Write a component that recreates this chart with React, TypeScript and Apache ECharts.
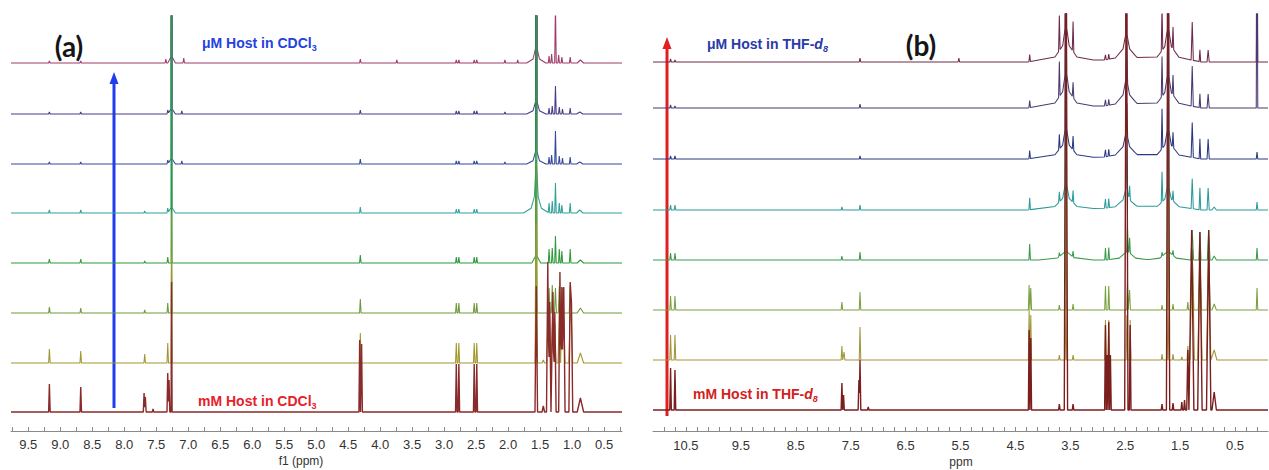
import React, { useEffect, useRef } from "react";
import * as echarts from "echarts";

// ---------- axis ticks / labels ----------
const LEFT_LABELS = [9.5, 9.0, 8.5, 8.0, 7.5, 7.0, 6.5, 6.0, 5.5, 5.0, 4.5, 4.0, 3.5, 3.0, 2.5, 2.0, 1.5, 1.0, 0.5];
const LEFT_TICKS = [9.75, 9.5, 9.25, 9.0, 8.75, 8.5, 8.25, 8.0, 7.75, 7.5, 7.25, 7.0, 6.75, 6.5, 6.25, 6.0, 5.75, 5.5, 5.25, 5.0, 4.75, 4.5, 4.25, 4.0, 3.75, 3.5, 3.25, 3.0, 2.75, 2.5, 2.25, 2.0, 1.75, 1.5, 1.25, 1.0, 0.75, 0.5, 0.25];
const RIGHT_LABELS = [10.5, 9.5, 8.5, 7.5, 6.5, 5.5, 4.5, 3.5, 2.5, 1.5, 0.5];
const RIGHT_TICKS = [10.9, 10.7, 10.5, 10.3, 10.1, 9.9, 9.7, 9.5, 9.3, 9.1, 8.9, 8.7, 8.5, 8.3, 8.1, 7.9, 7.7, 7.5, 7.3, 7.1, 6.9, 6.7, 6.5, 6.3, 6.1, 5.9, 5.7, 5.5, 5.3, 5.1, 4.9, 4.7, 4.5, 4.3, 4.1, 3.9, 3.7, 3.5, 3.3, 3.1, 2.9, 2.7, 2.5, 2.3, 2.1, 1.9, 1.7, 1.5, 1.3, 1.1, 0.9, 0.7, 0.5, 0.3, 0.1];

// ---------- (a) CDCl3 spectra: peaks [ppm, height, halfWidth?], bottom (mM) -> top (uM) ----------
const CDCL3_0 = [[9.17, 28], [8.68, 25], [7.69, 19], [7.67, 15], [7.55, 3], [7.32, 39], [7.30, 32], [7.26, 130, 0.008], [4.32, 72], [4.29, 68], [2.81, 48], [2.77, 48], [2.53, 48], [2.49, 48], [1.56, 126, 0.02], [1.45, 6, 0.02], [1.38, 150, 0.02], [1.35, 110, 0.02], [1.30, 120, 0.02], [1.27, 100, 0.02], [1.19, 140, 0.02], [1.16, 125, 0.02], [1.13, 125, 0.02], [1.03, 130, 0.02], [1.01, 110, 0.02], [0.87, 14, 0.05]];
const CDCL3_1 = [[9.17, 14], [8.68, 12], [7.68, 9], [7.32, 20], [7.26, 110, 0.008], [4.31, 30], [2.81, 20], [2.77, 20], [2.53, 20], [2.49, 20], [1.56, 140, 0.02], [1.45, 3, 0.02], [1.38, 40, 0.02], [1.35, 45, 0.02], [1.30, 50, 0.02], [1.27, 40, 0.02], [1.20, 50, 0.02], [1.16, 48, 0.02], [1.13, 45, 0.02], [1.03, 50, 0.02], [1.01, 40, 0.02], [0.87, 10, 0.05]];
const CDCL3_2 = [[9.17, 6], [8.68, 5], [7.68, 3], [7.32, 10], [7.26, 100, 0.008], [4.31, 14], [2.81, 10], [2.77, 10], [2.53, 10], [2.49, 10], [1.56, 150, 0.015], [1.36, 25, 0.015], [1.31, 28, 0.015], [1.26, 25, 0.015], [1.20, 27, 0.015], [1.15, 25, 0.015], [1.03, 27, 0.015], [0.87, 5, 0.05]];
const CDCL3_3 = [[9.17, 4], [8.68, 4], [7.68, 2], [7.32, 6], [7.26, 500, 0.007], [4.31, 8], [2.81, 6], [2.77, 6], [2.53, 6], [2.49, 6], [1.56, 500, 0.012], [1.56, 8, 0.07], [1.36, 14], [1.31, 15], [1.26, 27], [1.20, 14], [1.16, 12], [1.03, 14], [0.87, 3, 0.05]];
const CDCL3_4 = [[9.17, 3], [8.68, 3], [7.68, 2], [7.32, 5], [7.26, 500, 0.007], [7.26, 6, 0.06], [4.31, 6], [2.81, 4], [2.77, 4], [2.53, 4], [2.49, 4], [1.56, 30, 0.03], [1.56, 15, 0.08], [1.56, 8, 0.2], [1.36, 10], [1.31, 12], [1.26, 30], [1.20, 10], [1.16, 8], [1.03, 10], [0.88, 3, 0.05]];
const CDCL3_5 = [[9.17, 2], [8.68, 2], [7.32, 4], [7.26, 500, 0.007], [7.26, 6, 0.06], [7.10, 3], [4.31, 5], [2.81, 3], [2.77, 3], [2.53, 3], [2.49, 3], [2.05, 2], [1.56, 500, 0.012], [1.56, 10, 0.05], [1.56, 5, 0.15], [1.36, 7], [1.32, 9], [1.26, 33], [1.20, 8], [1.15, 6], [1.03, 7], [0.88, 2, 0.05]];
const CDCL3_6 = [[9.17, 2], [8.68, 2], [7.32, 4], [7.26, 500, 0.007], [7.26, 6, 0.06], [7.10, 3], [4.31, 4], [2.81, 3], [2.77, 3], [2.53, 3], [2.49, 3], [2.05, 2], [1.56, 500, 0.012], [1.56, 10, 0.05], [1.56, 5, 0.15], [1.36, 6], [1.31, 8], [1.26, 28], [1.20, 7], [1.15, 5], [1.03, 6], [0.88, 2, 0.05]];
const CDCL3_7 = [[9.17, 2], [8.68, 2], [7.35, 4], [7.26, 500, 0.007], [7.26, 7, 0.06], [7.07, 5], [4.31, 4], [3.74, 3], [2.81, 3], [2.77, 3], [2.53, 3], [2.49, 3], [2.05, 3], [1.85, 3], [1.56, 500, 0.012], [1.56, 12, 0.05], [1.56, 6, 0.15], [1.36, 7], [1.32, 9], [1.26, 60], [1.21, 8], [1.16, 6], [1.03, 6], [0.87, 3, 0.05]];
const CDCL3_TRACES = [CDCL3_0, CDCL3_1, CDCL3_2, CDCL3_3, CDCL3_4, CDCL3_5, CDCL3_6, CDCL3_7];
const CDCL3_COLORS = ["#8a2a2a", "#a0982e", "#6e9a3a", "#2f9a3c", "#2fa09a", "#34489a", "#4a3a88", "#a03a6a"];
const CDCL3_BASE = [19, 68, 118, 168, 218, 267, 317, 368];

// ---------- (b) THF-d8 spectra ----------
const THF_0 = [[10.78, 42], [10.70, 40], [7.66, 27], [7.63, 15], [7.35, 30], [7.33, 50], [7.18, 3], [4.25, 80], [4.22, 72], [3.70, 6], [3.58, 500, 0.03], [3.45, 6], [2.86, 85, 0.015], [2.83, 55, 0.015], [2.80, 88, 0.015], [2.77, 55, 0.015], [2.48, 500, 0.03], [2.41, 85, 0.015], [1.83, 6], [1.72, 500, 0.03], [1.63, 7], [1.47, 8], [1.42, 10], [1.36, 60, 0.02], [1.29, 180, 0.04], [1.14, 178, 0.04], [0.98, 180, 0.04], [0.88, 18, 0.04]];
const THF_1 = [[10.78, 25], [10.70, 25], [7.66, 14], [7.62, 8], [7.33, 33], [4.25, 50], [4.22, 45], [3.70, 5], [3.58, 60], [3.45, 5], [2.86, 40], [2.80, 40], [2.47, 45], [2.41, 40], [1.83, 6], [1.72, 60], [1.63, 6], [1.47, 3], [1.36, 14], [1.28, 110, 0.04], [1.14, 100, 0.04], [0.98, 100, 0.04], [0.88, 10, 0.05]];
const THF_2 = [[10.78, 14], [10.70, 14], [7.66, 8], [7.33, 18], [4.25, 25], [4.22, 22], [3.70, 5], [3.58, 120], [3.45, 6], [2.86, 24], [2.80, 24], [2.46, 28], [2.42, 20], [1.83, 5], [1.72, 120], [1.63, 6], [1.36, 8], [1.28, 60, 0.03], [1.14, 55, 0.03], [0.98, 55, 0.03], [0.88, 6, 0.04], [0.10, 22]];
const THF_3 = [[10.78, 7], [10.70, 7], [7.66, 4], [7.33, 8], [4.24, 16], [3.70, 4], [3.58, 200], [3.58, 6, 0.15], [3.58, 3, 0.5], [3.45, 6], [2.86, 12], [2.80, 12], [2.46, 25], [2.42, 15], [2.46, 6, 0.15], [2.46, 3, 0.4], [1.83, 4], [1.72, 200], [1.72, 6, 0.15], [1.72, 3, 0.4], [1.63, 5], [1.28, 30, 0.025], [1.14, 28, 0.02], [0.98, 30, 0.025], [0.88, 4, 0.04], [0.10, 12]];
const THF_4 = [[10.78, 5], [10.70, 5], [7.66, 3], [7.33, 5], [4.24, 12], [3.70, 10], [3.58, 300], [3.58, 14, 0.06], [3.58, 10, 0.2], [3.58, 5, 0.7], [3.45, 12], [2.86, 9], [2.80, 9], [2.47, 40], [2.48, 10, 0.06], [2.48, 8, 0.2], [2.48, 5, 0.6], [2.42, 14], [1.83, 30], [1.72, 300], [1.72, 12, 0.06], [1.72, 9, 0.2], [1.72, 5, 0.6], [1.63, 10], [1.28, 30, 0.02], [1.14, 22, 0.015], [0.99, 22, 0.02], [0.88, 3, 0.04], [0.10, 8]];
const THF_5 = [[10.78, 3], [10.70, 3], [7.33, 3], [4.24, 8], [3.70, 15], [3.58, 300], [3.58, 16, 0.06], [3.58, 12, 0.2], [3.58, 6, 0.7], [3.45, 14], [2.86, 7], [2.80, 7], [2.47, 30], [2.48, 12, 0.06], [2.48, 10, 0.2], [2.48, 6, 0.6], [1.83, 40], [1.72, 300], [1.72, 15, 0.06], [1.72, 12, 0.2], [1.72, 6, 0.6], [1.63, 15], [1.28, 35, 0.02], [1.14, 20], [0.99, 20, 0.02], [0.10, 7]];
const THF_6 = [[10.78, 3], [10.70, 2], [7.33, 4], [4.24, 7], [3.70, 35], [3.58, 300], [3.58, 18, 0.06], [3.58, 14, 0.2], [3.58, 7, 0.7], [3.45, 15], [2.86, 6], [2.80, 6], [2.47, 40], [2.48, 14, 0.06], [2.48, 11, 0.2], [2.48, 6, 0.6], [1.83, 40], [1.72, 300], [1.72, 17, 0.06], [1.72, 13, 0.2], [1.72, 7, 0.6], [1.63, 20], [1.28, 40, 0.02], [1.14, 14], [0.99, 14, 0.02], [0.10, 200]];
const THF_7 = [[10.78, 3], [10.70, 2], [7.33, 4], [5.53, 4], [4.24, 7], [3.70, 35], [3.58, 300], [3.58, 18, 0.06], [3.58, 14, 0.2], [3.58, 7, 0.7], [3.45, 30], [2.86, 5], [2.80, 5], [2.48, 300], [2.48, 14, 0.06], [2.48, 11, 0.2], [2.48, 6, 0.6], [1.83, 45], [1.72, 300], [1.72, 17, 0.06], [1.72, 13, 0.2], [1.72, 7, 0.6], [1.63, 22], [1.28, 38, 0.02], [1.14, 12], [0.99, 12, 0.02], [0.10, 200]];
const THF_TRACES = [THF_0, THF_1, THF_2, THF_3, THF_4, THF_5, THF_6, THF_7];
const THF_COLORS = ["#7a1e1e", "#a0963a", "#7aa040", "#3a9a4a", "#2a9a9a", "#2a3a80", "#4a3a70", "#6e2a4a"];
const THF_BASE = [21, 71, 121, 171, 221, 272, 323, 369];

// ---------- helpers ----------
// Spectrum outline = sum of triangular peaks; evaluated at every breakpoint (exact for piecewise-linear peaks).
function traceData(peaks: number[][], base: number, lo: number, hi: number, defW: number) {
  const xs: number[] = [lo, hi];
  peaks.forEach((pk) => {
    const w = pk[2] ?? defW;
    xs.push(pk[0] - w, pk[0], pk[0] + w);
  });
  const uniq = Array.from(new Set(xs.map((x) => Math.round(x * 100000) / 100000)))
    .filter((x) => x >= lo && x <= hi)
    .sort((a, b) => b - a);
  return uniq.map((x) => {
    let y = 0;
    peaks.forEach((pk) => {
      const w = pk[2] ?? defW;
      const v = pk[1] * (1 - Math.abs(x - pk[0]) / w);
      if (v > 0) y += v;
    });
    return [x, base + y];
  });
}

const L_MIN = 0.22, L_MAX = 9.77;
const R_MIN = -0.1, R_MAX = 11.1;
const FONT = "Liberation Sans";

function buildSeries(traces: number[][][], bases: number[], colors: string[], axis: number, lo: number, hi: number, defW: number) {
  const out: any[] = [];
  for (let i = traces.length - 1; i >= 0; i--) {
    out.push({
      type: "line",
      xAxisIndex: axis,
      yAxisIndex: axis,
      symbol: "none",
      clip: true,
      silent: true,
      lineStyle: { color: colors[i], width: i === 0 ? 1.4 : 1.05 },
      data: traceData(traces[i], bases[i], lo, hi, defW),
    });
  }
  return out;
}

function xAxisCfg(gridIndex: number, min: number, max: number, labels: number[], ticks: number[]) {
  return {
    type: "value",
    gridIndex,
    inverse: true,
    min,
    max,
    splitLine: { show: false },
    axisLine: { show: true, lineStyle: { color: "#8a8a8a", width: 1 } },
    axisTick: { show: true, inside: true, length: 4, customValues: ticks, lineStyle: { color: "#8a8a8a" } },
    axisLabel: {
      show: true,
      customValues: labels,
      formatter: (v: number) => v.toFixed(1),
      color: "#333",
      fontSize: 13,
      fontFamily: FONT,
      margin: 5,
    },
  };
}

function labelText(x: number, y: number, parts: string, rich: any) {
  return {
    type: "text",
    left: x,
    top: y,
    style: { text: parts, rich, fontFamily: FONT },
  };
}

export default function App() {
  const ref = useRef<HTMLDivElement>(null);
  useEffect(() => {
    if (!ref.current) return;
    const chart = echarts.init(ref.current, undefined, { renderer: "svg" });
    const blueL = "#2442e0";
    const blueR = "#2a3aa8";
    const redL = "#e8202a";
    const redR = "#d42020";
    const mk = (c: string) => ({
      a: { fontSize: 14, fontWeight: "bold", fill: c, fontFamily: FONT, lineHeight: 18 },
      s: { fontSize: 9, fontWeight: "bold", fill: c, fontFamily: FONT, lineHeight: 10, verticalAlign: "bottom" },
      i: { fontSize: 14, fontWeight: "bold", fontStyle: "italic", fill: c, fontFamily: FONT, lineHeight: 18 },
      si: { fontSize: 9, fontWeight: "bold", fontStyle: "italic", fill: c, fontFamily: FONT, lineHeight: 10, verticalAlign: "bottom" },
    });
    chart.setOption({
      animation: false,
      textStyle: { fontFamily: FONT },
      grid: [
        { left: 11, top: 16, width: 611, height: 417 },
        { left: 653, top: 14, width: 615, height: 420 },
      ],
      xAxis: [
        xAxisCfg(0, L_MIN, L_MAX, LEFT_LABELS, LEFT_TICKS),
        xAxisCfg(1, R_MIN, R_MAX, RIGHT_LABELS, RIGHT_TICKS),
      ],
      yAxis: [
        { type: "value", gridIndex: 0, min: -2, max: 415, show: false },
        { type: "value", gridIndex: 1, min: -3, max: 417, show: false },
      ],
      series: [
        ...buildSeries(CDCL3_TRACES, CDCL3_BASE, CDCL3_COLORS, 0, L_MIN, L_MAX, 0.012),
        ...buildSeries(THF_TRACES, THF_BASE, THF_COLORS, 1, R_MIN, R_MAX, 0.014),
      ],
      graphic: [
        { type: "text", x: 69, y: 46, style: { text: "(a)", fontSize: 28, fontWeight: "bold", fill: "#151515", fontFamily: "Lato", align: "center", verticalAlign: "middle" } },
        { type: "text", x: 921, y: 45, style: { text: "(b)", fontSize: 28, fontWeight: "bold", fill: "#151515", fontFamily: "Lato", align: "center", verticalAlign: "middle" } },
        labelText(202, 36, "{a|μM Host in CDCl}{s|3}", mk(blueL)),
        labelText(198, 394, "{a|mM Host in CDCl}{s|3}", mk(redL)),
        labelText(707, 37, "{a|μM Host in THF-}{i|d}{si|8}", mk(blueR)),
        labelText(693, 387, "{a|mM Host in THF-}{i|d}{si|8}", mk(redR)),
        { type: "text", x: 301, y: 461, style: { text: "f1 (ppm)", fontSize: 12, fill: "#333", fontFamily: FONT, align: "center", verticalAlign: "middle" } },
        { type: "text", x: 961, y: 462, style: { text: "ppm", fontSize: 12, fill: "#333", fontFamily: FONT, align: "center", verticalAlign: "middle" } },
        // arrows
        { type: "line", shape: { x1: 114, y1: 408, x2: 114, y2: 82 }, style: { stroke: "#1f3cf0", lineWidth: 3 } },
        { type: "polygon", shape: { points: [[114, 72], [109.5, 84], [118.5, 84]] }, style: { fill: "#1f3cf0" } },
        { type: "line", shape: { x1: 667, y1: 416, x2: 667, y2: 47 }, style: { stroke: "#e02020", lineWidth: 3 } },
        { type: "polygon", shape: { points: [[667, 37], [662.5, 49], [671.5, 49]] }, style: { fill: "#e02020" } },
      ],
    });
    return () => chart.dispose();
  }, []);
  return <div ref={ref} style={{ position: "fixed", left: 0, top: 0, width: 1269, height: 470, background: "#fff" }} />;
}
